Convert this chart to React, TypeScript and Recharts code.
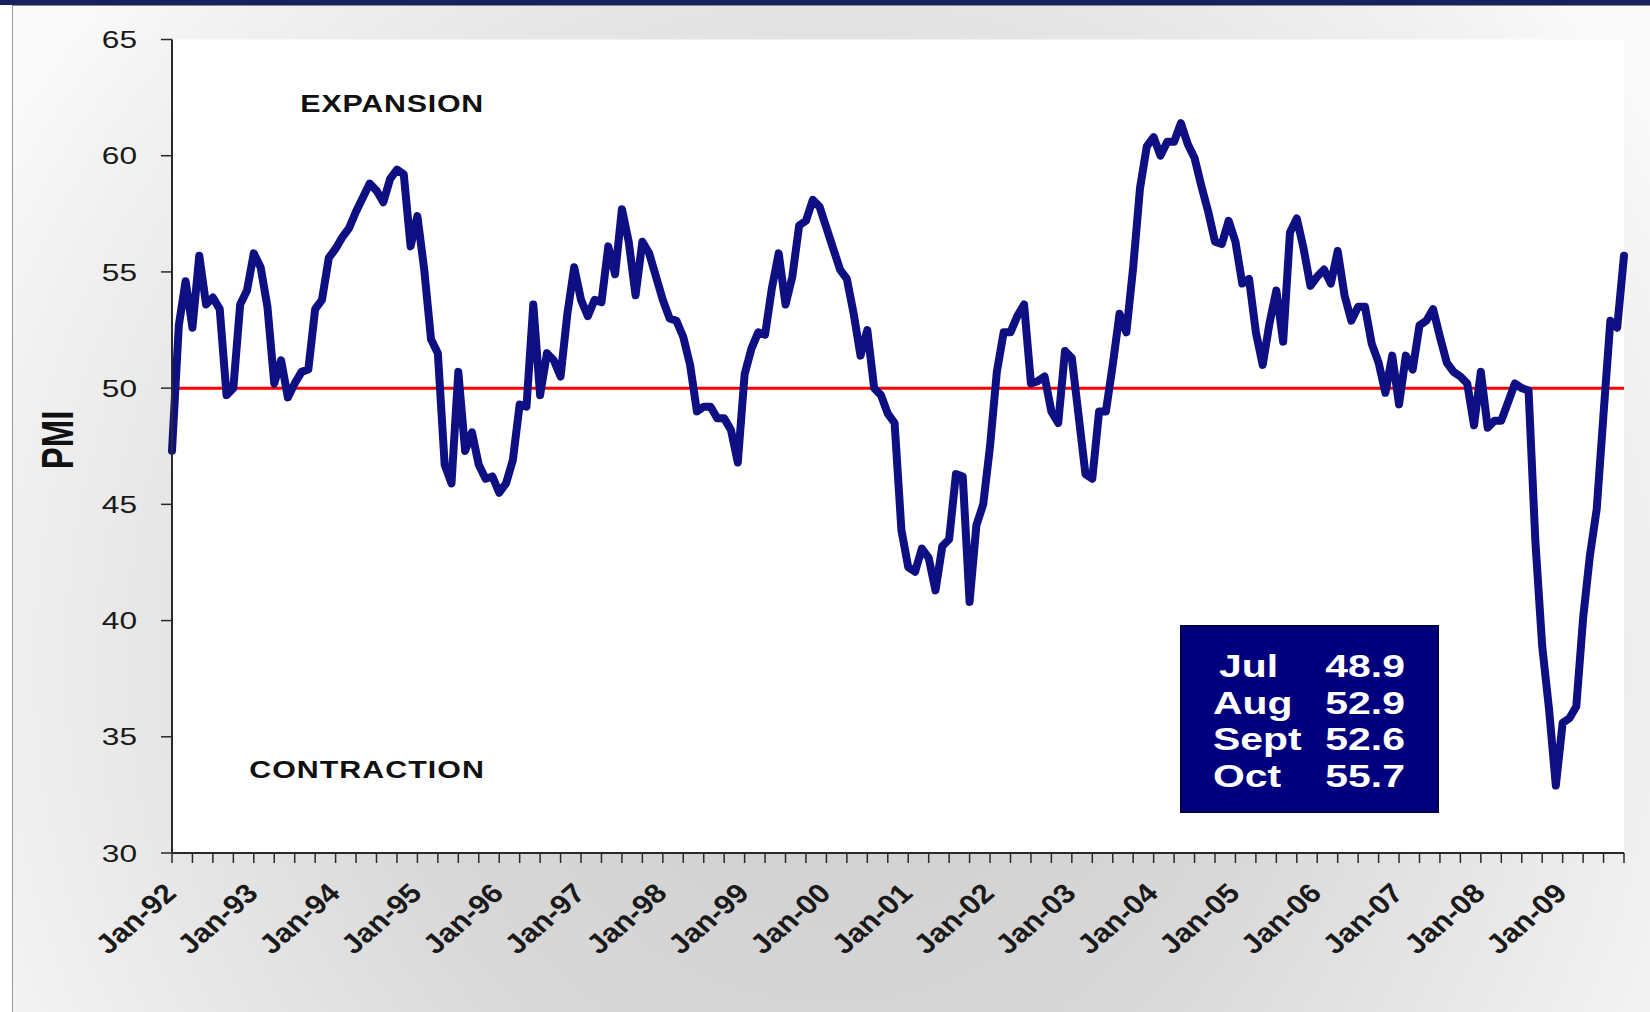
import React from "react";
import {
  CartesianGrid,
  Line,
  LineChart,
  ReferenceLine,
  XAxis,
  YAxis,
} from "recharts";

// ISM manufacturing PMI, monthly
const pmi1992 = [47.3, 52.7, 54.6, 52.6, 55.7, 53.6, 53.9, 53.4, 49.7, 50.0, 53.6, 54.2];
const pmi1993 = [55.8, 55.2, 53.5, 50.2, 51.2, 49.6, 50.2, 50.7, 50.8, 53.4, 53.8, 55.6];
const pmi1994 = [56.0, 56.5, 56.9, 57.6, 58.2, 58.8, 58.5, 58.0, 59.0, 59.4, 59.2, 56.1];
const pmi1995 = [57.4, 55.1, 52.1, 51.5, 46.7, 45.9, 50.7, 47.3, 48.1, 46.7, 46.1, 46.2];
const pmi1996 = [45.5, 45.9, 46.9, 49.3, 49.2, 53.6, 49.7, 51.5, 51.2, 50.5, 53.2, 55.2];
const pmi1997 = [53.8, 53.1, 53.8, 53.7, 56.1, 54.9, 57.7, 56.3, 54.0, 56.3, 55.8, 54.8];
const pmi1998 = [53.8, 53.0, 52.9, 52.2, 51.0, 49.0, 49.2, 49.2, 48.7, 48.7, 48.2, 46.8];
const pmi1999 = [50.6, 51.7, 52.4, 52.3, 54.3, 55.8, 53.6, 54.8, 57.0, 57.2, 58.1, 57.8];
const pmi2000 = [56.9, 56.0, 55.1, 54.7, 53.2, 51.4, 52.5, 50.0, 49.7, 48.9, 48.5, 43.9];
const pmi2001 = [42.3, 42.1, 43.1, 42.7, 41.3, 43.2, 43.5, 46.3, 46.2, 40.8, 44.1, 45.0];
const pmi2002 = [47.5, 50.7, 52.4, 52.4, 53.1, 53.6, 50.2, 50.3, 50.5, 49.0, 48.5, 51.6];
const pmi2003 = [51.3, 48.8, 46.3, 46.1, 49.0, 49.0, 51.0, 53.2, 52.4, 55.2, 58.6, 60.4];
const pmi2004 = [60.8, 60.0, 60.6, 60.6, 61.4, 60.5, 59.9, 58.7, 57.6, 56.3, 56.2, 57.2];
const pmi2005 = [56.3, 54.5, 54.7, 52.4, 51.0, 52.8, 54.2, 52.0, 56.7, 57.3, 56.0, 54.4];
const pmi2006 = [54.8, 55.1, 54.5, 55.9, 54.0, 52.9, 53.5, 53.5, 51.9, 51.1, 49.8, 51.4];
const pmi2007 = [49.3, 51.4, 50.8, 52.7, 52.9, 53.4, 52.2, 51.1, 50.7, 50.5, 50.2, 48.4];
const pmi2008 = [50.7, 48.3, 48.6, 48.6, 49.4, 50.2, 50.0, 49.9, 43.4, 38.9, 36.2, 32.9];
const pmi2009 = [35.6, 35.8, 36.3, 40.1, 42.8, 44.8, 48.9, 52.9, 52.6, 55.7];

const yearSeries = [
  pmi1992, pmi1993, pmi1994, pmi1995, pmi1996, pmi1997, pmi1998, pmi1999, pmi2000,
  pmi2001, pmi2002, pmi2003, pmi2004, pmi2005, pmi2006, pmi2007, pmi2008, pmi2009,
];
const yearLabels = [
  "92", "93", "94", "95", "96", "97", "98", "99", "00",
  "01", "02", "03", "04", "05", "06", "07", "08", "09",
];
const monthNames = ["Jan", "Feb", "Mar", "Apr", "May", "Jun", "Jul", "Aug", "Sep", "Oct", "Nov", "Dec"];
const yTicks = [30, 35, 40, 45, 50, 55, 60, 65];

// latest readings shown in the box
const recentMonths = ["Jul", "Aug", "Sept", "Oct"];
const recentValues = pmi2009.slice(-4);

const data = yearSeries.flatMap((vals, i) =>
  vals.map((v, m) => ({ month: `${monthNames[m]}-${yearLabels[i]}`, pmi: v }))
);

const FONT = '"Liberation Sans", Arial, sans-serif';
const STRETCH = 1.32; // text is drawn wide
const W = 1650;
const H = 1012;

function YTick(props: any) {
  const { x, y, payload } = props;
  return (
    <text
      transform={`translate(${x},${y}) scale(${STRETCH},1)`}
      textAnchor="end"
      dy="0.36em"
      fontSize={24}
      fill="#1a1a1a"
      fontFamily={FONT}
    >
      {payload.value}
    </text>
  );
}

function XTick(props: any) {
  const { x, y, payload } = props;
  const label = String(payload.value);
  if (!label.startsWith("Jan")) return <g />;
  return (
    <text
      transform={`translate(${x + 6},${y + 30}) scale(1.15,1) rotate(-45)`}
      textAnchor="end"
      fontSize={27}
      fontWeight="bold"
      fill="#1a1a1a"
      fontFamily={FONT}
    >
      {label}
    </text>
  );
}

function Wide({ x, y, anchor = "start", size, weight = "bold", fill = "#111", spacing = 0, children }: any) {
  return (
    <text
      transform={`translate(${x},${y}) scale(${STRETCH},1)`}
      textAnchor={anchor}
      fontSize={size}
      fontWeight={weight}
      fill={fill}
      letterSpacing={spacing}
      fontFamily={FONT}
    >
      {children}
    </text>
  );
}

export default function App() {
  return (
    <div
      style={{
        position: "absolute",
        left: 0,
        top: 0,
        width: W,
        height: H,
        background: "#ffffff",
        overflow: "hidden",
      }}
    >
      <div
        style={{
          position: "absolute",
          left: 12,
          top: 5,
          right: 0,
          bottom: 0,
          borderLeft: "1px solid #9a9a9a",
          borderTop: "1px solid #8a8a8a",
          background:
            "radial-gradient(ellipse 60% 100% at 50% 65%, #cdcdcd 0%, #d8d8d8 45%, #f3f3f3 90%, #fafafa 100%)",
        }}
      />
      <div style={{ position: "absolute", left: 0, top: 0, width: W, height: 5, background: "#17215c" }} />

      <div style={{ position: "absolute", left: 0, top: 0 }}>
        <LineChart
          width={W}
          height={H}
          data={data}
          margin={{ top: 39.5, right: 26, left: 0, bottom: 0 }}
        >
          <CartesianGrid horizontal={false} vertical={false} fill="#ffffff" />
          <XAxis
            dataKey="month"
            interval={2}
            height={159}
            padding={{ left: 0, right: 0 }}
            tickSize={10}
            tickMargin={2}
            axisLine={{ stroke: "#2a2a2a", strokeWidth: 2 }}
            tickLine={{ stroke: "#2a2a2a", strokeWidth: 1.5 }}
            tick={(p: any) => <XTick {...p} />}
          />
          <YAxis
            domain={[30, 65]}
            ticks={yTicks}
            width={172}
            tickSize={11}
            tickMargin={24}
            axisLine={{ stroke: "#2a2a2a", strokeWidth: 2 }}
            tickLine={{ stroke: "#2a2a2a", strokeWidth: 1.5 }}
            tick={(p: any) => <YTick {...p} />}
          />
          <ReferenceLine y={50} stroke="#ff0000" strokeWidth={3} />
          <Line
            type="linear"
            dataKey="pmi"
            stroke="#0f0f84"
            strokeWidth={8}
            strokeLinejoin="round"
            strokeLinecap="round"
            dot={false}
            activeDot={false}
            isAnimationActive={false}
          />
        </LineChart>
      </div>

      <svg
        width={W}
        height={H}
        style={{ position: "absolute", left: 0, top: 0, pointerEvents: "none" }}
      >
        <text
          transform={`translate(73,440) scale(${STRETCH},1) rotate(-90)`}
          textAnchor="middle"
          fontSize={33}
          fontWeight="bold"
          fill="#111"
          fontFamily={FONT}
        >
          PMI
        </text>
        <Wide x={484} y={111.5} anchor="end" size={23} spacing={0.6}>
          EXPANSION
        </Wide>
        <Wide x={485} y={777.5} anchor="end" size={23} spacing={0.8}>
          CONTRACTION
        </Wide>

        <rect x={1181} y={626} width={257} height={186} fill="#00007e" stroke="#00004a" strokeWidth={2} />
        {recentMonths.map((m, i) => (
          <g key={m}>
            <Wide x={m === "Jul" ? 1219 : 1213} y={677 + i * 36.5} size={31} fill="#ffffff">
              {m}
            </Wide>
            <Wide x={1405} y={677 + i * 36.5} anchor="end" size={31} fill="#ffffff">
              {recentValues[i].toFixed(1)}
            </Wide>
          </g>
        ))}
      </svg>
    </div>
  );
}
